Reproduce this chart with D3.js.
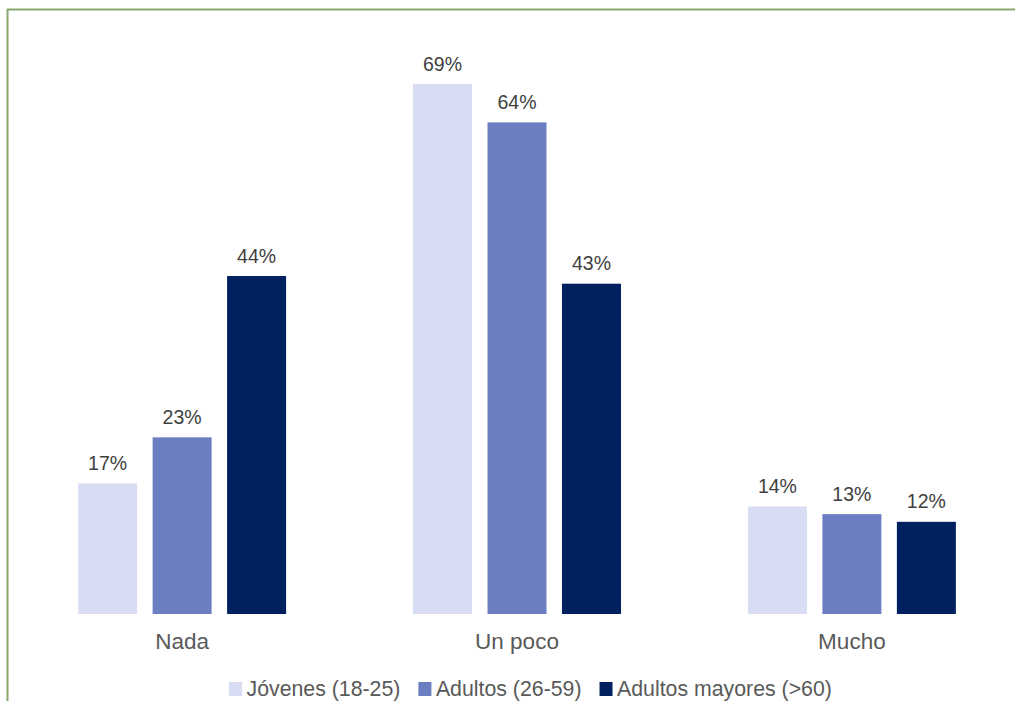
<!DOCTYPE html>
<html>
<head>
<meta charset="utf-8">
<script src="https://cdn.jsdelivr.net/npm/d3@7"></script>
<style>
  html, body { margin: 0; padding: 0; background: #ffffff; }
  svg { display: block; font-family: "Liberation Sans", Arial, Helvetica, sans-serif; }
</style>
</head>
<body>
<svg id="chart" width="1016" height="701"></svg>
<script>
// Categories on the x axis
const categories = ["Nada", "Un poco", "Mucho"];
// Age groups (series)
const seriesNames = ["Jóvenes (18-25)", "Adultos (26-59)", "Adultos mayores (>60)"];
// Percentages per series, in category order
const jovenes = [17, 69, 14];
const adultos = [23, 64, 13];
const mayores = [44, 43, 12];
const seriesValues = [jovenes, adultos, mayores];
const seriesColors = ["#d8ddf4", "#6a7ec1", "#002060"];

const W = 1016, H = 701;
const svg = d3.select("#chart");

// Frame lines (top and left)
svg.append("line")
  .attr("x1", 7).attr("x2", 1015).attr("y1", 9.5).attr("y2", 9.5)
  .attr("stroke", "#87a86f").attr("stroke-width", 2);
svg.append("line")
  .attr("x1", 7.5).attr("x2", 7.5).attr("y1", 9).attr("y2", H)
  .attr("stroke", "#87a86f").attr("stroke-width", 2);

const baseline = 614;
const y = d3.scaleLinear().domain([0, 69]).range([baseline, 84]);

const x0 = d3.scaleBand()
  .domain(categories)
  .range([14.5, 1019.5])
  .paddingInner(0.379)
  .paddingOuter(0.19);

const x1 = d3.scaleBand()
  .domain(seriesNames)
  .range([0, x0.bandwidth()])
  .paddingInner(0.208)
  .paddingOuter(0);

const rows = [];
seriesNames.forEach((s, si) => {
  categories.forEach((c, ci) => {
    rows.push({ series: s, cat: c, value: seriesValues[si][ci], color: seriesColors[si] });
  });
});

const g = svg.append("g");

g.selectAll("rect.bar")
  .data(rows)
  .join("rect")
  .attr("class", "bar")
  .attr("x", d => x0(d.cat) + x1(d.series))
  .attr("y", d => y(d.value))
  .attr("width", x1.bandwidth())
  .attr("height", d => baseline - y(d.value))
  .attr("fill", d => d.color);

g.selectAll("text.val")
  .data(rows)
  .join("text")
  .attr("class", "val")
  .attr("x", d => x0(d.cat) + x1(d.series) + x1.bandwidth() / 2)
  .attr("y", d => y(d.value) - 13.5)
  .attr("text-anchor", "middle")
  .attr("font-size", 19.5)
  .attr("fill", "#404040")
  .text(d => d.value + "%");

// Category axis labels
const xAxis = d3.axisBottom(x0).tickSize(0).tickPadding(0);
const axisG = svg.append("g")
  .attr("transform", `translate(0,${baseline})`)
  .call(xAxis);
axisG.select(".domain").remove();
axisG.selectAll(".tick text")
  .attr("dy", null)
  .attr("y", 34.5)
  .attr("font-size", 22.5)
  .attr("font-family", "'Liberation Sans', Arial, sans-serif")
  .attr("fill", "#595959");

// Legend
const legend = svg.append("g").attr("class", "legend");
let lx = 229;
seriesNames.forEach((s, i) => {
  const item = legend.append("g").attr("transform", `translate(${lx},0)`);
  item.append("rect")
    .attr("x", 0).attr("y", 682)
    .attr("width", 13).attr("height", 14)
    .attr("fill", seriesColors[i]);
  const t = item.append("text")
    .attr("x", 17.5).attr("y", 696)
    .attr("font-size", 21.3)
    .attr("fill", "#595959")
    .text(s);
  const tw = t.node().getComputedTextLength();
  lx += 17.5 + tw + 18;
});
</script>
</body>
</html>
